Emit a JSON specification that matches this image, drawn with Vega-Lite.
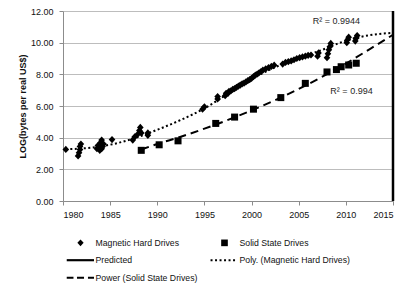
{
  "$schema": "https://vega.github.io/schema/vega-lite/v6.json",
  "autosize": "none",
  "width": 330,
  "height": 190,
  "padding": {"left": 63, "top": 11, "right": 22, "bottom": 90},
  "background": "white",
  "config": {
    "view": {"stroke": null},
    "font": "Liberation Sans",
    "axis": {
      "labelFont": "Liberation Sans",
      "labelFontSize": 9,
      "labelColor": "#111111",
      "domainColor": "#8c8c8c",
      "tickColor": "#8c8c8c",
      "tickSize": 4,
      "gridColor": "#bdbdbd",
      "titleFont": "Liberation Sans",
      "titleFontSize": 9,
      "titleFontWeight": "bold",
      "titleColor": "#111111"
    }
  },
  "datasets": {
    "drives": [
      {"year": 1980.3, "value": 3.26, "series": "Magnetic Hard Drives"},
      {"year": 1981.6, "value": 2.85, "series": "Magnetic Hard Drives"},
      {"year": 1981.7, "value": 3.05, "series": "Magnetic Hard Drives"},
      {"year": 1981.8, "value": 3.25, "series": "Magnetic Hard Drives"},
      {"year": 1981.8, "value": 3.45, "series": "Magnetic Hard Drives"},
      {"year": 1981.9, "value": 3.6, "series": "Magnetic Hard Drives"},
      {"year": 1983.6, "value": 3.3, "series": "Magnetic Hard Drives"},
      {"year": 1983.7, "value": 3.5, "series": "Magnetic Hard Drives"},
      {"year": 1983.9, "value": 3.2, "series": "Magnetic Hard Drives"},
      {"year": 1984.0, "value": 3.7, "series": "Magnetic Hard Drives"},
      {"year": 1984.0, "value": 3.4, "series": "Magnetic Hard Drives"},
      {"year": 1984.1, "value": 3.85, "series": "Magnetic Hard Drives"},
      {"year": 1984.2, "value": 3.45, "series": "Magnetic Hard Drives"},
      {"year": 1984.3, "value": 3.6, "series": "Magnetic Hard Drives"},
      {"year": 1984.1, "value": 3.3, "series": "Magnetic Hard Drives"},
      {"year": 1985.2, "value": 3.88, "series": "Magnetic Hard Drives"},
      {"year": 1987.4, "value": 3.85, "series": "Magnetic Hard Drives"},
      {"year": 1987.6, "value": 4.05, "series": "Magnetic Hard Drives"},
      {"year": 1987.9, "value": 4.2, "series": "Magnetic Hard Drives"},
      {"year": 1988.1, "value": 4.45, "series": "Magnetic Hard Drives"},
      {"year": 1988.2, "value": 4.65, "series": "Magnetic Hard Drives"},
      {"year": 1988.3, "value": 4.3, "series": "Magnetic Hard Drives"},
      {"year": 1989.0, "value": 4.15, "series": "Magnetic Hard Drives"},
      {"year": 1989.0, "value": 4.3, "series": "Magnetic Hard Drives"},
      {"year": 1994.8, "value": 5.8, "series": "Magnetic Hard Drives"},
      {"year": 1995.0, "value": 5.95, "series": "Magnetic Hard Drives"},
      {"year": 1996.4, "value": 6.45, "series": "Magnetic Hard Drives"},
      {"year": 1996.4, "value": 6.6, "series": "Magnetic Hard Drives"},
      {"year": 1997.2, "value": 6.65, "series": "Magnetic Hard Drives"},
      {"year": 1997.3, "value": 6.8, "series": "Magnetic Hard Drives"},
      {"year": 1997.5, "value": 6.8, "series": "Magnetic Hard Drives"},
      {"year": 1997.6, "value": 6.92, "series": "Magnetic Hard Drives"},
      {"year": 1997.8, "value": 6.95, "series": "Magnetic Hard Drives"},
      {"year": 1998.0, "value": 7.05, "series": "Magnetic Hard Drives"},
      {"year": 1998.2, "value": 7.1, "series": "Magnetic Hard Drives"},
      {"year": 1998.4, "value": 7.18, "series": "Magnetic Hard Drives"},
      {"year": 1998.6, "value": 7.25, "series": "Magnetic Hard Drives"},
      {"year": 1998.8, "value": 7.32, "series": "Magnetic Hard Drives"},
      {"year": 1999.0, "value": 7.4, "series": "Magnetic Hard Drives"},
      {"year": 1999.2, "value": 7.45, "series": "Magnetic Hard Drives"},
      {"year": 1999.4, "value": 7.52, "series": "Magnetic Hard Drives"},
      {"year": 1999.6, "value": 7.6, "series": "Magnetic Hard Drives"},
      {"year": 1999.8, "value": 7.67, "series": "Magnetic Hard Drives"},
      {"year": 2000.0, "value": 7.75, "series": "Magnetic Hard Drives"},
      {"year": 2000.2, "value": 7.85, "series": "Magnetic Hard Drives"},
      {"year": 2000.4, "value": 7.95, "series": "Magnetic Hard Drives"},
      {"year": 2000.6, "value": 8.02, "series": "Magnetic Hard Drives"},
      {"year": 2000.8, "value": 8.1, "series": "Magnetic Hard Drives"},
      {"year": 2001.0, "value": 8.18, "series": "Magnetic Hard Drives"},
      {"year": 2001.2, "value": 8.26, "series": "Magnetic Hard Drives"},
      {"year": 2001.5, "value": 8.35, "series": "Magnetic Hard Drives"},
      {"year": 2001.8, "value": 8.42, "series": "Magnetic Hard Drives"},
      {"year": 2002.1, "value": 8.5, "series": "Magnetic Hard Drives"},
      {"year": 2002.4, "value": 8.58, "series": "Magnetic Hard Drives"},
      {"year": 2003.3, "value": 8.65, "series": "Magnetic Hard Drives"},
      {"year": 2003.6, "value": 8.75, "series": "Magnetic Hard Drives"},
      {"year": 2003.9, "value": 8.8, "series": "Magnetic Hard Drives"},
      {"year": 2004.2, "value": 8.85, "series": "Magnetic Hard Drives"},
      {"year": 2004.5, "value": 8.92, "series": "Magnetic Hard Drives"},
      {"year": 2004.8, "value": 9.0, "series": "Magnetic Hard Drives"},
      {"year": 2005.1, "value": 9.05, "series": "Magnetic Hard Drives"},
      {"year": 2005.4, "value": 9.1, "series": "Magnetic Hard Drives"},
      {"year": 2005.7, "value": 9.15, "series": "Magnetic Hard Drives"},
      {"year": 2006.0, "value": 9.2, "series": "Magnetic Hard Drives"},
      {"year": 2006.3, "value": 9.22, "series": "Magnetic Hard Drives"},
      {"year": 2007.0, "value": 9.15, "series": "Magnetic Hard Drives"},
      {"year": 2007.1, "value": 9.35, "series": "Magnetic Hard Drives"},
      {"year": 2008.0, "value": 9.05, "series": "Magnetic Hard Drives"},
      {"year": 2008.1, "value": 9.3, "series": "Magnetic Hard Drives"},
      {"year": 2008.2, "value": 9.55, "series": "Magnetic Hard Drives"},
      {"year": 2008.3, "value": 9.75, "series": "Magnetic Hard Drives"},
      {"year": 2008.4, "value": 9.95, "series": "Magnetic Hard Drives"},
      {"year": 2010.1, "value": 10.0, "series": "Magnetic Hard Drives"},
      {"year": 2010.2, "value": 10.2, "series": "Magnetic Hard Drives"},
      {"year": 2010.3, "value": 10.35, "series": "Magnetic Hard Drives"},
      {"year": 2011.0, "value": 10.1, "series": "Magnetic Hard Drives"},
      {"year": 2011.1, "value": 10.3, "series": "Magnetic Hard Drives"},
      {"year": 2011.2, "value": 10.45, "series": "Magnetic Hard Drives"},
      {"year": 1988.3, "value": 3.2, "series": "Solid State Drives"},
      {"year": 1990.2, "value": 3.55, "series": "Solid State Drives"},
      {"year": 1992.2, "value": 3.8, "series": "Solid State Drives"},
      {"year": 1996.2, "value": 4.9, "series": "Solid State Drives"},
      {"year": 1998.2, "value": 5.3, "series": "Solid State Drives"},
      {"year": 2000.2, "value": 5.8, "series": "Solid State Drives"},
      {"year": 2003.1, "value": 6.53, "series": "Solid State Drives"},
      {"year": 2005.7, "value": 7.43, "series": "Solid State Drives"},
      {"year": 2008.0, "value": 8.15, "series": "Solid State Drives"},
      {"year": 2009.0, "value": 8.3, "series": "Solid State Drives"},
      {"year": 2009.5, "value": 8.48, "series": "Solid State Drives"},
      {"year": 2010.3, "value": 8.59, "series": "Solid State Drives"},
      {"year": 2011.1, "value": 8.7, "series": "Solid State Drives"}
    ],
    "polyFit": [
      {"year": 1980.3, "value": 3.27},
      {"year": 1983, "value": 3.37},
      {"year": 1985.5, "value": 3.62},
      {"year": 1988, "value": 4.05},
      {"year": 1990, "value": 4.5},
      {"year": 1992.5, "value": 5.12},
      {"year": 1995, "value": 5.85},
      {"year": 1997.5, "value": 6.78},
      {"year": 2000, "value": 7.7},
      {"year": 2002.5, "value": 8.45},
      {"year": 2005, "value": 9.02},
      {"year": 2007.5, "value": 9.55},
      {"year": 2010, "value": 10.12},
      {"year": 2012.5, "value": 10.47},
      {"year": 2015, "value": 10.62}
    ],
    "powerFit": [
      {"year": 1988.3, "value": 3.25},
      {"year": 1990, "value": 3.6},
      {"year": 1992.5, "value": 4.06},
      {"year": 1995, "value": 4.57},
      {"year": 1997.5, "value": 5.12},
      {"year": 2000, "value": 5.72},
      {"year": 2002.5, "value": 6.37},
      {"year": 2005, "value": 7.08},
      {"year": 2007.5, "value": 7.85},
      {"year": 2010, "value": 8.68},
      {"year": 2012.5, "value": 9.58},
      {"year": 2015, "value": 10.5}
    ],
    "predicted": [
      {"year": 2015, "value": 0},
      {"year": 2015, "value": 12}
    ],
    "notes": [
      {"year": 2009.0, "value": 11.39, "label": "R² = 0.9944"},
      {"year": 2010.6, "value": 6.97, "label": "R² = 0.994"}
    ]
  },
  "encoding": {
    "x": {
      "field": "year",
      "type": "quantitative",
      "scale": {"domain": [1980, 2015], "nice": false, "zero": false},
      "axis": {
        "values": [1980, 1985, 1990, 1995, 2000, 2005, 2010, 2015],
        "format": "d",
        "title": null,
        "grid": false,
        "labelPadding": 5
      }
    },
    "y": {
      "field": "value",
      "type": "quantitative",
      "scale": {"domain": [0, 12], "nice": false, "zero": true},
      "axis": {
        "values": [0, 2, 4, 6, 8, 10, 12],
        "format": ".2f",
        "title": "LOG(bytes per real US$)",
        "grid": true,
        "labelPadding": 6,
        "titlePadding": 3
      }
    }
  },
  "layer": [
    {
      "data": {"name": "predicted"},
      "mark": {"type": "line", "color": "black", "strokeWidth": 2.5},
      "encoding": {}
    },
    {
      "data": {"name": "polyFit"},
      "mark": {"type": "line", "color": "black", "strokeWidth": 2, "strokeDash": [2, 2.5], "interpolate": "monotone"},
      "encoding": {}
    },
    {
      "data": {"name": "powerFit"},
      "mark": {"type": "line", "color": "black", "strokeWidth": 2, "strokeDash": [8, 5], "interpolate": "monotone"},
      "encoding": {}
    },
    {
      "data": {"name": "drives"},
      "mark": {"type": "point", "filled": true, "color": "black", "opacity": 1, "size": 360, "strokeWidth": 0},
      "encoding": {
        "shape": {
          "field": "series",
          "type": "nominal",
          "scale": {
            "domain": ["Magnetic Hard Drives", "Predicted", "Power (Solid State Drives)", "Solid State Drives", "Poly. (Magnetic Hard Drives)"],
            "range": [
              "M0,-0.38L0.35,0L0,0.38L-0.35,0Z",
              "M-1.53,-0.12H1.5V0.12H-1.53Z",
              "M-1.53,-0.11H-0.78V0.11H-1.53ZM-0.39,-0.11H0.39V0.11H-0.39ZM0.83,-0.11H1.5V0.11H0.83Z",
              "M-0.37,-0.37H0.37V0.37H-0.37Z",
              "M-1.55,-0.11H-1.33V0.11H-1.55ZM-1.05,-0.11H-0.83V0.11H-1.05ZM-0.55,-0.11H-0.33V0.11H-0.55ZM-0.05,-0.11H0.17V0.11H-0.05ZM0.45,-0.11H0.67V0.11H0.45ZM0.95,-0.11H1.17V0.11H0.95Z"
            ]
          },
          "legend": {
            "title": null,
            "orient": "none",
            "legendX": 8.5,
            "legendY": 222.7,
            "columns": 2,
            "columnPadding": 13,
            "rowPadding": 3.5,
            "padding": 0,
            "symbolSize": 324,
            "symbolStrokeWidth": 0,
            "symbolFillColor": "black",
            "symbolStrokeColor": "black",
            "labelFont": "Liberation Sans",
            "labelFontSize": 8.7,
            "labelColor": "#111111",
            "labelOffset": 6,
            "labelLimit": 300
          }
        }
      }
    },
    {
      "data": {"name": "notes"},
      "mark": {"type": "text", "font": "Liberation Sans", "fontSize": 9, "color": "#262626", "align": "center", "baseline": "middle"},
      "encoding": {"text": {"field": "label"}}
    }
  ]
}
